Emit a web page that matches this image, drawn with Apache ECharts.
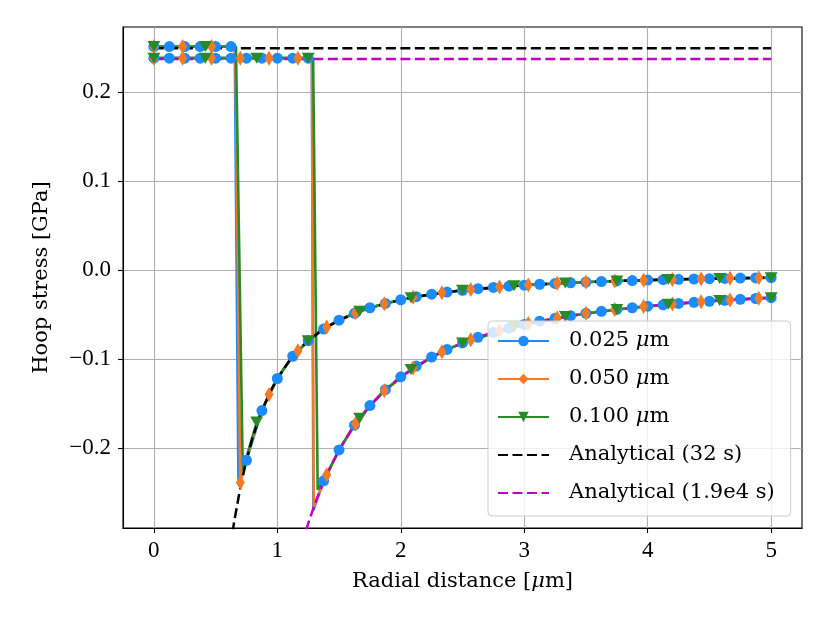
<!DOCTYPE html>
<html><head><meta charset="utf-8">
<script src="https://cdn.jsdelivr.net/npm/echarts@6/dist/echarts.min.js"></script>
<style>html,body{margin:0;padding:0;background:#fff}#c{width:830px;height:623px}</style>
</head><body><div id="c"></div>
<script>
// ---------- data ----------
const xTicks = [0, 1, 2, 3, 4, 5];
const yTicks = [-0.2, -0.1, 0, 0.1, 0.2];
const legendNames = ['0.025 μm', '0.050 μm', '0.100 μm', 'Analytical (32 s)', 'Analytical (1.9e4 s)'];

// 0.025 µm mesh: marker positions and values (t = 32 s, t = 1.9e4 s)
const blueX = [0,0.125,0.25,0.375,0.5,0.625,0.75,0.875,1,1.125,1.25,1.375,1.5,1.625,1.75,1.875,2,2.125,2.25,2.375,2.5,2.625,2.75,2.875,3,3.125,3.25,3.375,3.5,3.625,3.75,3.875,4,4.125,4.25,4.375,4.5,4.625,4.75,4.875,5];
const blueEarlyY = [0.251,0.251,0.251,0.251,0.251,0.251,-0.214,-0.158,-0.122,-0.097,-0.0795,-0.0664,-0.0564,-0.0487,-0.0425,-0.0376,-0.0335,-0.0301,-0.0273,-0.0249,-0.0229,-0.0211,-0.0196,-0.0183,-0.0171,-0.0161,-0.0152,-0.0144,-0.0136,-0.0130,-0.0124,-0.0119,-0.0114,-0.0109,-0.0105,-0.0102,-0.0098,-0.0095,-0.0092,-0.0090,-0.0087];
const blueLateY = [0.238,0.238,0.238,0.238,0.238,0.238,0.238,0.238,0.238,0.238,0.238,-0.237,-0.2023,-0.1745,-0.1524,-0.1346,-0.1201,-0.1080,-0.0979,-0.0893,-0.0820,-0.0757,-0.0702,-0.0655,-0.0613,-0.0576,-0.0543,-0.0514,-0.0488,-0.0465,-0.0444,-0.0425,-0.0407,-0.0392,-0.0377,-0.0364,-0.0352,-0.0341,-0.0330,-0.0321,-0.0312];
const blueEarlyExtra = [[0.655,0.251],[0.685,-0.238]];
const blueLateExtra = [[1.28,0.238],[1.292,-0.270]];

// 0.050 µm mesh
const orangeX = [0,0.233,0.467,0.7,0.933,1.167,1.4,1.633,1.867,2.1,2.333,2.567,2.8,3.033,3.267,3.5,3.733,3.967,4.2,4.433,4.667,4.9];
const orangeEarlyY = [0.251,0.251,0.251,-0.239,-0.140,-0.0907,-0.0642,-0.0482,-0.0379,-0.0308,-0.0257,-0.0219,-0.0191,-0.0168,-0.0151,-0.0136,-0.0125,-0.0115,-0.0107,-0.0100,-0.0094,-0.0089];
const orangeLateY = [0.238,0.238,0.238,0.238,0.238,0.238,-0.2301,-0.1729,-0.1357,-0.1102,-0.0920,-0.0785,-0.0683,-0.0603,-0.0539,-0.0488,-0.0446,-0.0412,-0.0383,-0.0358,-0.0337,-0.0319];
const orangeEarlyExtra = [[0.66,0.251],[0.78,-0.198],[0.85,-0.167],[1.05,-0.111],[1.28,-0.076],[5,-0.0087]];
const orangeLateExtra = [[1.28,0.238],[1.295,-0.266],[1.5,-0.2023],[1.75,-0.1524],[5,-0.0312]];

// 0.100 µm mesh
const greenX = [0,0.417,0.833,1.25,1.667,2.083,2.5,2.917,3.333,3.75,4.167,4.583,5];
const greenEarlyY = [0.251,0.251,-0.171,-0.0795,-0.0465,-0.0312,-0.0229,-0.0179,-0.0146,-0.0124,-0.0108,-0.0096,-0.0087];
const greenLateY = [0.238,0.238,0.238,0.238,-0.1666,-0.1118,-0.0820,-0.0640,-0.0524,-0.0444,-0.0387,-0.0344,-0.0312];
const greenEarlyExtra = [[0.665,0.251],[0.72,-0.225],[0.9,-0.150],[1.0,-0.122],[1.1,-0.1015],[1.35,-0.0687],[1.45,-0.0601],[1.55,-0.0531],[1.85,-0.0385],[2.3,-0.0263]];
const greenLateExtra = [[1.29,0.238],[1.327,-0.247],[1.4,-0.2301],[1.5,-0.2023],[1.6,-0.1795],[1.85,-0.1379],[2.3,-0.0943]];

// analytical solutions
const blackFlat = [[0,0.249],[5,0.249]];
const blackX = [0.62,0.65,0.7,0.75,0.8,0.875,0.95,1.0,1.1,1.2,1.35,1.5,1.75,2.0,2.25,2.5,3.0,3.5,4.0,4.5,5.0];
const blackY = [-0.311,-0.2833,-0.2448,-0.214,-0.1884,-0.158,-0.1347,-0.122,-0.1015,-0.0859,-0.0687,-0.0564,-0.0425,-0.0335,-0.0273,-0.0229,-0.0171,-0.0136,-0.0114,-0.0098,-0.0087];
const magentaFlat = [[0,0.237],[5,0.237]];
const magentaX = [1.2,1.25,1.3,1.35,1.4,1.5,1.6,1.75,1.9,2.0,2.25,2.5,2.75,3.0,3.5,4.0,4.5,5.0];
const magentaY = [-0.308,-0.285,-0.2646,-0.2464,-0.2301,-0.2023,-0.1795,-0.1524,-0.1315,-0.1201,-0.0979,-0.0820,-0.0702,-0.0613,-0.0488,-0.0407,-0.0352,-0.0312];

// ---------- build ----------
const TICKFONT = 'Liberation Serif';
const FONT = 'DejaVu Serif';
const FS = 21;
const zip = (xs, ys) => xs.map((x, i) => [x, ys[i]]);
function build(xs, ys, extra) {
  const pts = zip(xs, ys).map(v => ({ v, m: true })).concat(extra.map(v => ({ v, m: false })));
  pts.sort((a, b) => a.v[0] - b.v[0]);
  return pts.map(p => p.m ? { value: p.v } : { value: p.v, symbol: 'none' });
}
function mesh(name, color, symbol, size, rotate, data) {
  return { type: 'line', name, data, symbol, symbolSize: size, symbolRotate: rotate,
    showSymbol: true, color, lineStyle: { width: 2.6, color }, itemStyle: { color },
    animation: false, emphasis: { disabled: true } };
}
function analytic(name, color, data) {
  return { type: 'line', name, data, symbol: 'none', showSymbol: false, color,
    lineStyle: { width: 2.5, color, type: [10, 4.5] }, itemStyle: { color },
    animation: false, emphasis: { disabled: true } };
}
const BLUE = '#1a8cff', ORANGE = '#f47a25', GREEN = '#2a8a2a', MAG = '#c000c0';
const series = [
  mesh(legendNames[0], BLUE, 'circle', 11, 0, build(blueX, blueEarlyY, blueEarlyExtra)),
  mesh(legendNames[0], BLUE, 'circle', 11, 0, build(blueX, blueLateY, blueLateExtra)),
  mesh(legendNames[1], ORANGE, 'diamond', [9, 15], 0, build(orangeX, orangeEarlyY, orangeEarlyExtra)),
  mesh(legendNames[1], ORANGE, 'diamond', [9, 15], 0, build(orangeX, orangeLateY, orangeLateExtra)),
  mesh(legendNames[2], GREEN, 'triangle', [13, 11], 180, build(greenX, greenEarlyY, greenEarlyExtra)),
  mesh(legendNames[2], GREEN, 'triangle', [13, 11], 180, build(greenX, greenLateY, greenLateExtra)),
  analytic(legendNames[3], '#000000', blackFlat),
  analytic(legendNames[3], '#000000', zip(blackX, blackY)),
  analytic(legendNames[4], MAG, magentaFlat),
  analytic(legendNames[4], MAG, zip(magentaX, magentaY))
];

const rich = { i: { fontStyle: 'italic', fontFamily: FONT, fontSize: FS, color: '#000' } };
const chart = echarts.init(document.getElementById('c'), null, { renderer: 'canvas' });
chart.setOption({
  backgroundColor: '#fff',
  animation: false,
  grid: { left: 123, right: 28, top: 27, bottom: 95, show: true, borderColor: '#000', borderWidth: 1.1, backgroundColor: 'transparent' },
  xAxis: {
    type: 'value', min: -0.25, max: 5.25,
    axisLine: { show: true, onZero: false, lineStyle: { color: '#000', width: 1.1 } },
    axisTick: { show: true, customValues: xTicks, length: 5, lineStyle: { color: '#000', width: 1.1 } },
    axisLabel: { customValues: xTicks, margin: 11, fontFamily: TICKFONT, fontSize: 23, color: '#000', formatter: v => String(v) },
    splitLine: { show: true, lineStyle: { color: '#b0b0b0', width: 1.1 } },
    name: 'Radial distance [{i|μ}m]', nameLocation: 'middle', nameGap: 43,
    nameTextStyle: { fontFamily: FONT, fontSize: FS, color: '#000', rich }
  },
  yAxis: {
    type: 'value', min: -0.29, max: 0.273,
    axisLine: { show: true, onZero: false, lineStyle: { color: '#000', width: 1.1 } },
    axisTick: { show: true, customValues: yTicks, length: 5, lineStyle: { color: '#000', width: 1.1 } },
    axisLabel: { customValues: yTicks, margin: 12, fontFamily: TICKFONT, fontSize: 23, color: '#000',
      formatter: v => (v < -1e-9 ? '\u2212' : '') + Math.abs(v).toFixed(1) },
    splitLine: { show: true, lineStyle: { color: '#b0b0b0', width: 1.1 } },
    name: 'Hoop stress [GPa]', nameLocation: 'middle', nameGap: 71, nameRotate: 90,
    nameTextStyle: { fontFamily: FONT, fontSize: FS, color: '#000' }
  },
  legend: {
    data: [
      { name: legendNames[0] }, { name: legendNames[1] }, { name: legendNames[2] },
      { name: legendNames[3], itemStyle: { opacity: 0 } },
      { name: legendNames[4], itemStyle: { opacity: 0 } }
    ],
    orient: 'vertical', left: 488, top: 321,
    itemWidth: 51, itemHeight: 13, itemGap: 14,
    padding: [8, 16, 11, 9],
    backgroundColor: 'rgba(255,255,255,0.8)', borderColor: '#cccccc', borderWidth: 1, borderRadius: 4,
    textStyle: { fontFamily: FONT, fontSize: FS, lineHeight: 24, color: '#000', padding: [0, 0, 0, 15], rich },
    formatter: n => n.replace('μ', '{i|μ}'),
    selectedMode: false
  },
  series
});
</script>
</body></html>
